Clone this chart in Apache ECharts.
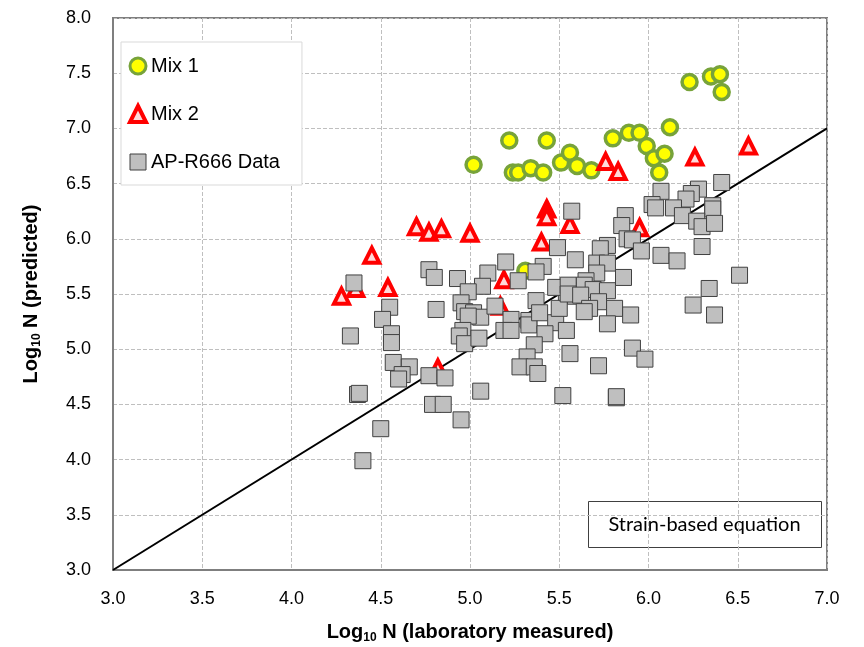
<!DOCTYPE html>
<html>
<head>
<meta charset="utf-8">
<script src="https://cdn.jsdelivr.net/npm/echarts@6/dist/echarts.min.js"></script>
<style>
  html, body { margin: 0; padding: 0; background: #fff; }
  #chart { width: 864px; height: 647px; }
</style>
</head>
<body>
<div id="chart"></div>
<script>
// [log10 N measured, log10 N predicted]
var mix1Points = [
  [5.02, 6.67], [5.22, 6.89], [5.43, 6.89], [5.24, 6.60], [5.27, 6.60],
  [5.34, 6.64], [5.41, 6.60], [5.51, 6.69], [5.56, 6.78], [5.60, 6.66],
  [5.68, 6.62], [5.80, 6.91], [5.89, 6.96], [5.95, 6.96], [5.99, 6.84],
  [6.03, 6.73], [6.09, 6.77], [6.06, 6.60], [6.12, 7.01], [6.23, 7.42],
  [6.35, 7.47], [6.40, 7.49], [6.41, 7.33], [5.31, 5.71]
];

var mix2Points = [
  [4.28, 5.48], [4.36, 5.55], [4.45, 5.85], [4.54, 5.56], [4.70, 6.11],
  [4.77, 6.06], [4.84, 6.09], [5.00, 6.05], [5.19, 5.63], [5.17, 5.39],
  [4.82, 4.83], [5.40, 5.97], [5.43, 6.27], [5.43, 6.20], [5.56, 6.13],
  [5.76, 6.70], [5.83, 6.61], [5.95, 6.10], [6.26, 6.74], [6.56, 6.84]
];

var apr666Points = [
  [5.49, 5.92], [5.20, 5.79], [5.41, 5.75], [5.37, 5.70], [5.27, 5.62],
  [5.10, 5.69], [5.07, 5.57], [4.93, 5.64], [4.77, 5.72], [4.80, 5.65],
  [4.35, 5.60], [4.55, 5.38], [4.51, 5.27], [4.33, 5.12], [4.56, 5.14],
  [4.56, 5.06], [4.81, 5.36], [4.99, 5.52], [4.95, 5.42], [4.97, 5.34],
  [5.02, 5.33], [5.06, 5.29], [4.99, 5.30], [5.14, 5.39], [5.23, 5.27],
  [5.19, 5.17], [5.23, 5.17], [5.33, 5.26], [5.33, 5.22], [5.37, 5.44],
  [5.39, 5.33], [5.48, 5.24], [5.54, 5.51], [5.59, 5.48], [5.48, 5.56],
  [5.50, 5.37], [5.54, 5.17], [5.42, 5.14], [5.36, 5.04], [5.56, 4.96],
  [5.32, 4.93], [5.28, 4.84], [5.36, 4.84], [5.38, 4.78], [4.96, 5.17],
  [4.94, 5.12], [4.97, 5.05], [5.05, 5.10], [4.57, 4.88], [4.66, 4.84],
  [4.62, 4.77], [4.60, 4.73], [4.77, 4.76], [4.86, 4.74], [5.06, 4.62],
  [5.52, 4.58], [4.37, 4.59], [4.38, 4.60], [4.79, 4.50], [4.85, 4.50],
  [4.95, 4.36], [4.50, 4.28], [4.40, 3.99], [5.82, 4.56], [5.72, 4.85],
  [6.41, 6.51], [6.28, 6.45], [6.24, 6.41], [6.21, 6.36], [6.07, 6.43],
  [6.02, 6.31], [6.04, 6.28], [6.14, 6.28], [6.19, 6.21], [6.36, 6.30],
  [6.36, 6.27], [6.27, 6.16], [6.30, 6.11], [6.37, 6.14], [6.30, 5.93],
  [6.07, 5.85], [6.16, 5.80], [6.51, 5.67], [6.34, 5.55], [6.25, 5.40],
  [6.37, 5.31], [5.57, 6.25], [5.87, 6.21], [5.85, 6.12], [5.88, 6.00],
  [5.91, 5.99], [5.96, 5.89], [5.77, 5.94], [5.73, 5.91], [5.59, 5.81],
  [5.71, 5.78], [5.77, 5.78], [5.71, 5.69], [5.65, 5.62], [5.64, 5.58],
  [5.55, 5.58], [5.69, 5.54], [5.77, 5.53], [5.55, 5.50], [5.62, 5.49],
  [5.72, 5.43], [5.67, 5.37], [5.64, 5.34], [5.86, 5.65], [5.81, 5.37],
  [5.90, 5.31], [5.77, 5.23], [5.91, 5.01], [5.98, 4.91], [5.82, 4.57]
];

var equalityLine = [[3, 3], [7, 7]];

var chart = echarts.init(document.getElementById('chart'));

var labelFont = 'Liberation Sans, Arial, sans-serif';

var mix1Style = { color: '#ffff00', borderColor: '#77a33a', borderWidth: 3.5, opacity: 1 };
var mix2Style = { color: '#ffd9d9', borderColor: '#ff0000', borderWidth: 4, opacity: 1 };
var apStyle = { color: '#bfbfbf', borderColor: '#404040', borderWidth: 1, opacity: 1 };

var nameRich = {
  b: { fontFamily: labelFont, fontWeight: 'bold', fontSize: 20, color: '#000' },
  s: { fontFamily: labelFont, fontWeight: 'bold', fontSize: 12, color: '#000', padding: [12, 0, 0, 0] }
};

var option = {
  animation: false,
  backgroundColor: '#fff',
  grid: {
    left: 113, right: 37, top: 18, bottom: 77,
    outerBoundsMode: 'none',
    show: true,
    borderColor: '#7f7f7f',
    borderWidth: 2
  },
  legend: {
    orient: 'vertical',
    left: 121, top: 42,
    padding: [14, 22, 13, 7],
    itemGap: 28,
    itemWidth: 16, itemHeight: 16,
    backgroundColor: '#fff',
    borderColor: '#d9d9d9',
    borderWidth: 1,
    textStyle: { fontFamily: labelFont, fontSize: 20, color: '#000', lineHeight: 20 },
    data: [
      { name: 'Mix 1', icon: 'circle', itemStyle: { color: '#ffff00', borderColor: '#77a33a', borderWidth: 3 } },
      { name: 'Mix 2', icon: 'triangle', itemStyle: { color: '#ffd9d9', borderColor: '#ff0000', borderWidth: 4 } },
      { name: 'AP-R666 Data', icon: 'rect', itemStyle: { color: '#bfbfbf', borderColor: '#404040', borderWidth: 1 } }
    ]
  },
  xAxis: {
    type: 'value',
    min: 3, max: 7, interval: 0.5,
    name: '{b|Log}{s|10}{b| N (laboratory measured)}',
    nameLocation: 'middle',
    nameGap: 50,
    nameTextStyle: { rich: nameRich },
    axisLine: { lineStyle: { color: '#7f7f7f', width: 2 } },
    axisTick: { show: false },
    axisLabel: {
      margin: 20,
      fontFamily: labelFont, fontSize: 18, color: '#000',
      formatter: function (v) { return v.toFixed(1); }
    },
    splitLine: { lineStyle: { color: '#bfbfbf', type: 'dashed', width: 1 } }
  },
  yAxis: {
    type: 'value',
    min: 3, max: 8, interval: 0.5,
    name: '{b|Log}{s|10}{b| N (predicted)}',
    nameLocation: 'middle',
    nameGap: 70,
    nameRotate: 90,
    nameTextStyle: { rich: nameRich },
    axisLine: { lineStyle: { color: '#7f7f7f', width: 2 } },
    axisTick: { show: false },
    axisLabel: {
      margin: 22,
      fontFamily: labelFont, fontSize: 18, color: '#000',
      formatter: function (v) { return v.toFixed(1); }
    },
    splitLine: { lineStyle: { color: '#bfbfbf', type: 'dashed', width: 1 } }
  },
  series: [
    {
      name: 'line',
      type: 'line',
      data: equalityLine,
      symbol: 'none',
      silent: true,
      lineStyle: { color: '#000', width: 2 },
      z: 1
    },
    {
      name: 'Mix 1',
      type: 'scatter',
      data: mix1Points,
      symbol: 'circle',
      symbolSize: 15,
      itemStyle: mix1Style,
      z: 2
    },
    {
      name: 'Mix 2',
      type: 'scatter',
      data: mix2Points,
      symbol: 'triangle',
      symbolSize: 15,
      itemStyle: mix2Style,
      z: 3
    },
    {
      name: 'AP-R666 Data',
      type: 'scatter',
      data: apr666Points,
      symbol: 'rect',
      symbolSize: 16,
      itemStyle: apStyle,
      z: 4
    }
  ],
  graphic: [
    {
      type: 'group',
      left: 588, top: 501,
      z: 10,
      children: [
        {
          type: 'rect',
          shape: { x: 0, y: 0, width: 233, height: 46 },
          style: { fill: '#fff', stroke: '#404040', lineWidth: 1 }
        },
        {
          type: 'text',
          x: 116, y: 23,
          style: {
            text: 'Strain-based equation',
            fontFamily: 'Lato, Carlito, sans-serif',
            fontSize: 20,
            fill: '#000',
            align: 'center',
            verticalAlign: 'middle'
          }
        }
      ]
    }
  ]
};

chart.setOption(option);
</script>
</body>
</html>
